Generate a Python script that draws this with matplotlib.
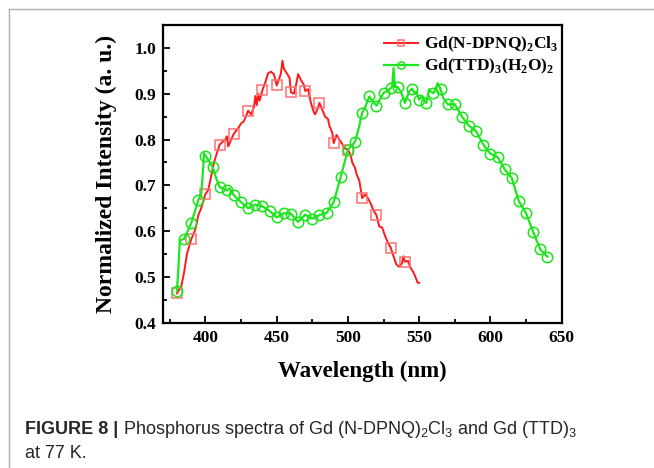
import matplotlib
matplotlib.use('Agg')
import matplotlib.pyplot as plt
from matplotlib.lines import Line2D

plt.rcParams['font.family'] = 'Liberation Serif'
plt.rcParams['mathtext.fontset'] = 'custom'
plt.rcParams['mathtext.rm'] = 'Liberation Serif:bold'
plt.rcParams['mathtext.bf'] = 'Liberation Serif:bold'
plt.rcParams['mathtext.sf'] = 'Liberation Sans'

# Gd(N-DPNQ)2Cl3 spectrum (markers drawn every 10 nm)
wl_red = [380, 383, 385, 387, 390, 393, 395, 397, 400, 402, 404, 406, 408, 410,
          412, 414, 415, 416, 418, 420, 423, 425, 427, 430, 432, 434, 435, 436,
          437, 438, 440, 442, 444, 446, 448, 450, 452, 453, 454, 455, 457, 459,
          460, 462, 464, 465, 467, 469, 470, 472, 474, 476, 477, 479, 480, 482,
          484, 486, 487, 489, 490, 492, 494, 496, 498, 500, 502, 503, 505, 506,
          508, 510, 512, 514, 516, 518, 520, 522, 524, 526, 528, 530, 532, 534,
          536, 538, 539, 540, 542, 544, 546, 548, 549, 550]
int_red = [0.464, 0.479, 0.51, 0.55, 0.582, 0.605, 0.635, 0.65, 0.681, 0.69, 0.72,
           0.75, 0.77, 0.789, 0.795, 0.80, 0.807, 0.785, 0.80, 0.813, 0.825, 0.835,
           0.84, 0.863, 0.855, 0.87, 0.895, 0.875, 0.90, 0.885, 0.908, 0.925, 0.945,
           0.948, 0.943, 0.918, 0.935, 0.945, 0.972, 0.955, 0.945, 0.935, 0.903, 0.90,
           0.925, 0.943, 0.93, 0.92, 0.906, 0.91, 0.88, 0.86, 0.855, 0.87, 0.880,
           0.865, 0.85, 0.845, 0.83, 0.815, 0.792, 0.81, 0.80, 0.79, 0.78, 0.778,
           0.765, 0.75, 0.738, 0.725, 0.71, 0.672, 0.68, 0.672, 0.66, 0.645, 0.635,
           0.61, 0.608, 0.59, 0.575, 0.564, 0.545, 0.527, 0.522, 0.53, 0.545, 0.533,
           0.535, 0.52, 0.51, 0.495, 0.487, 0.487]

# Gd(TTD)3(H2O)2 spectrum (markers drawn every 5 nm)
wl_grn = [380, 381, 382, 385, 390, 395, 397, 398, 399, 400, 402, 405, 407, 410,
          415, 417, 420, 425, 430, 435, 440, 445, 450, 455, 460, 465, 470, 475,
          480, 485, 490, 495, 500, 505, 508, 510, 512, 515, 517, 520, 522, 525,
          527, 530, 531, 532, 533, 535, 537, 540, 543, 545, 547, 548, 550, 552,
          553, 555, 557, 558, 560, 562, 563, 565, 567, 570, 575, 580, 585, 590,
          595, 600, 605, 610, 615, 620, 625, 630, 635, 640]
int_grn = [0.469, 0.52, 0.58, 0.583, 0.617, 0.668, 0.68, 0.72, 0.77, 0.765, 0.755,
           0.740, 0.72, 0.696, 0.689, 0.693, 0.678, 0.663, 0.650, 0.658, 0.654,
           0.644, 0.630, 0.639, 0.638, 0.620, 0.636, 0.627, 0.635, 0.640, 0.663,
           0.719, 0.778, 0.795, 0.83, 0.859, 0.87, 0.894, 0.885, 0.874, 0.885,
           0.902, 0.905, 0.912, 0.915, 0.956, 0.915, 0.914, 0.905, 0.880, 0.905,
           0.911, 0.90, 0.905, 0.887, 0.895, 0.885, 0.880, 0.91, 0.905, 0.901,
           0.915, 0.923, 0.910, 0.89, 0.877, 0.877, 0.850, 0.830, 0.818, 0.789,
           0.769, 0.762, 0.735, 0.716, 0.665, 0.639, 0.598, 0.560, 0.544]

xticks = [400, 450, 500, 550, 600, 650]
yticks = [0.4, 0.5, 0.6, 0.7, 0.8, 0.9, 1.0]

fig = plt.figure(figsize=(6.54, 4.68), dpi=100)
ax = fig.add_axes([0.2488, 0.3105, 0.61, 0.636])

mk_red = [i for i, w in enumerate(wl_red) if w % 10 == 0 and w <= 540]
mk_grn = [i for i, w in enumerate(wl_grn) if w % 5 == 0]

ax.plot(wl_red, int_red, '-', color='#ff1a1a', lw=1.4, marker='s', markevery=mk_red,
        ms=6.6, mfc='none', mec='#ff7070', mew=1.1,
        label=r'Gd(N-DPNQ)$_2$Cl$_3$')
ax.plot(wl_grn, int_grn, '-', color='#1ee61e', lw=1.6, marker='o', markevery=mk_grn,
        ms=7.5, mfc='none', mec='#19e619', mew=1.1,
        label=r'Gd(TTD)$_3$(H$_2$O)$_2$')

ax.set_xlim(370, 650)
ax.set_ylim(0.4, 1.05)
ax.set_xticks(xticks)
ax.set_yticks(yticks)
ax.set_xticks(range(375, 650, 50), minor=True)
ax.set_yticks([0.45, 0.55, 0.65, 0.75, 0.85, 0.95, 1.05], minor=True)
ax.set_yticklabels(['%.1f' % v for v in yticks], fontweight='bold')
ax.set_xticklabels([str(v) for v in xticks], fontweight='bold')
ax.tick_params(which='both', direction='in', width=1.3, labelsize=12.5)
ax.tick_params(which='major', length=5)
ax.tick_params(which='minor', length=3)
ax.tick_params(axis='x', pad=5)
ax.tick_params(axis='y', pad=4.5)
for s in ax.spines.values():
    s.set_linewidth(1.6)

ax.set_xlabel('Wavelength (nm)', fontsize=16.5, fontweight='bold', labelpad=11)
ax.set_ylabel('Normalized Intensity (a. u.)', fontsize=17, fontweight='bold', labelpad=13)

leg = ax.legend(loc='upper right', frameon=False, prop={'size': 12.5, 'weight': 'bold'},
                handlelength=2.0, handletextpad=0.3, labelspacing=0.15, borderaxespad=0.1,
                markerscale=0.7, bbox_to_anchor=(1.012, 0.995))

# outer frame of the figure panel
fig.add_artist(Line2D([9 / 654, 9 / 654], [0, 1 - 9 / 468], color='#b0b0b0', lw=1.0))
fig.add_artist(Line2D([9 / 654, 1], [1 - 9 / 468, 1 - 9 / 468], color='#b0b0b0', lw=1.0))

cap_color = '#262626'
cap_size = 13
t1 = fig.text(25 / 654, 1 - 434 / 468, 'FIGURE 8 |', fontsize=cap_size, family='Liberation Sans',
              fontweight='bold', color=cap_color, va='baseline')
cap2 = fig.text(0.1, 1 - 434 / 468,
                ' Phosphorus spectra of Gd (N-DPNQ)$_\\mathsf{2}$Cl$_\\mathsf{3}$ and Gd (TTD)$_\\mathsf{3}$',
                fontsize=cap_size, family='Liberation Sans', color=cap_color, va='baseline')
fig.text(25 / 654, 1 - 458 / 468, 'at 77 K.', fontsize=cap_size, family='Liberation Sans',
         color=cap_color, va='baseline')

# place the plain part of the caption right after the bold part
fig.canvas.draw()
bb = t1.get_window_extent()
cap2.set_position((bb.x1 / fig.bbox.width, 1 - 434 / 468))

fig.savefig('out.png', dpi=100)
